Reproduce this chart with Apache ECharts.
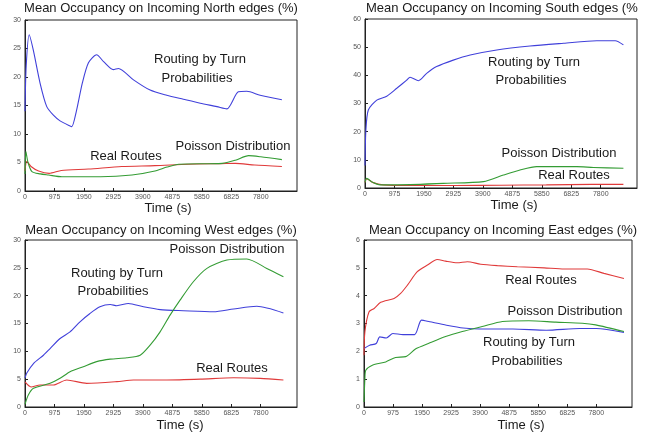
<!DOCTYPE html>
<html>
<head>
<meta charset="utf-8">
<script src="https://cdn.jsdelivr.net/npm/echarts@6/dist/echarts.min.js"></script>
<style>
html, body { margin: 0; padding: 0; background: #fff; }
#chart { width: 649px; height: 436px; }
</style>
</head>
<body>
<div id="chart"></div>
<script>
// Tick positions on the time axis (seconds)
const timeTicks = [0, 975, 1950, 2925, 3900, 4875, 5850, 6825, 7800];

// Incoming North edges: [time (s), occupancy (%)]
const northTurn = [[0,14],[40,22],[140,27.4],[275,24.7],[500,18.9],[720,14.8],[940,13.3],[1160,12.3],[1490,11.4],[1550,11.3],[1700,14],[1900,19],[2100,22.5],[2370,23.9],[2600,22.7],[2920,21.3],[3090,21.5],[3590,19.5],[4140,17.7],[4690,16.8],[5240,16.1],[5800,15.4],[6350,14.8],[6680,14.4],[7060,17.4],[7340,17.5],[7780,16.8],[8500,16.0]];
const northReal = [[0,3.5],[60,5.2],[200,4.3],[450,3.5],[800,3.1],[1200,3.6],[2100,3.85],[3200,4.3],[4300,4.45],[5400,4.7],[6500,4.8],[6960,4.85],[7600,4.55],[8500,4.3]];
const northPoisson = [[0,3.0],[30,6.9],[100,5.0],[230,3.4],[500,3.0],[780,2.8],[1220,2.5],[2500,2.5],[3540,2.8],[4300,3.5],[4700,4.2],[5090,4.7],[6520,4.85],[6960,5.4],[7400,6.2],[7800,6.0],[8500,5.5]];

// Incoming South edges
const southTurn = [[0,8],[30,20.6],[110,27.7],[390,31.2],[720,32.6],[1050,35.4],[1380,38.3],[1490,39.3],[1770,38.1],[2040,40.7],[2370,43.1],[2920,45.4],[3480,47.2],[4360,49],[5460,50.4],[6570,51.4],[7670,52.3],[8280,52.3],[8550,50.8]];
const southPoisson = [[0,2],[55,3.4],[250,2],[500,1.1],[1500,1.2],[2590,1.65],[3920,2.25],[4580,4.6],[5130,6.4],[5680,7.6],[7010,7.6],[7560,7.3],[8550,7.0]];
const southReal = [[0,2.0],[60,3.3],[250,2.0],[600,1.1],[1500,0.9],[3000,0.9],[4500,1.0],[6000,1.1],[7500,1.3],[8550,1.3]];

// Incoming West edges
const westTurn = [[0,5.2],[60,6.1],[280,7.8],[610,9.3],[830,10.5],[1160,12.3],[1490,13.5],[1820,15.3],[2150,16.8],[2480,18.0],[2820,18.4],[3040,18.2],[3420,18.6],[3920,18.0],[4470,17.5],[5240,17.3],[6240,17.1],[6900,17.6],[7670,18.1],[8550,16.9]];
const westPoisson = [[0,0.5],[110,2.15],[280,3.35],[830,4.25],[1160,5.15],[1490,6.35],[1930,7.25],[2370,8.15],[2820,8.6],[3370,8.85],[3810,9.3],[4140,11.1],[4470,13.5],[4800,16.5],[5130,19.2],[5570,22.5],[6020,24.9],[6680,26.4],[7340,26.6],[8000,24.9],[8550,23.4]];
const westReal = [[0,4.5],[200,3.6],[500,3.95],[940,3.95],[1380,4.85],[2040,4.25],[3040,4.55],[3590,4.85],[4690,4.85],[5800,5.0],[6900,5.25],[7780,5.15],[8550,4.85]];

// Incoming East edges
const eastReal = [[0,1.86],[30,2.7],[170,3.42],[340,3.54],[560,3.76],[1010,3.9],[1230,4.08],[1460,4.38],[1790,4.86],[2130,5.1],[2460,5.3],[2740,5.24],[3130,5.18],[3470,5.22],[3920,5.13],[4480,5.08],[5150,5.04],[6050,5.0],[6720,4.96],[7500,4.96],[8060,4.8],[8730,4.62]];
const eastTurn = [[0,2.1],[190,2.22],[410,2.28],[530,2.52],[750,2.48],[970,2.64],[1310,2.6],[1700,2.6],[1930,3.12],[2210,3.06],[2770,2.94],[3330,2.84],[3890,2.8],[5000,2.8],[6120,2.76],[7240,2.82],[7800,2.82],[8730,2.68]];
const eastPoisson = [[0,0.18],[30,1.02],[60,1.32],[280,1.5],[730,1.62],[1060,1.78],[1400,1.81],[1740,2.09],[2180,2.29],[2740,2.53],[3300,2.71],[3970,2.89],[4650,3.07],[5540,3.1],[6440,3.05],[7330,3.01],[7780,2.95],[8730,2.71]];

// Panel text
const panelTitles = [
  'Mean Occupancy on Incoming North edges (%)',
  'Mean Occupancy on Incoming South edges (%',
  'Mean Occupancy on Incoming West edges (%)',
  'Mean Occupancy on Incoming East edges (%)'
];
const xName = 'Time (s)';
const turnLines = ['Routing by Turn', 'Probabilities'];
const poissonName = 'Poisson Distribution';
const realName = 'Real Routes';

// y ranges per panel: [max, interval]
const yRanges = [[30, 5], [60, 10], [30, 5], [6, 1]];

const BLUE = '#4040da', GREEN = '#349c34', RED = '#e03a3a';
const FONT = '"Liberation Sans", Arial, Helvetica, sans-serif';

const grids = [
  { left: 25, top: 20, width: 272, height: 171 },
  { left: 365, top: 19, width: 272, height: 169 },
  { left: 25, top: 240, width: 272, height: 167 },
  { left: 364, top: 240, width: 268, height: 167 }
].map(g => Object.assign({ show: true, borderColor: '#222', borderWidth: 1, backgroundColor: 'transparent' }, g));

const xAxes = grids.map((g, i) => ({
  gridIndex: i, type: 'value', min: 0, max: 9000,
  axisLine: { lineStyle: { color: '#222', width: 1 } },
  axisTick: { inside: true, length: 3, customValues: timeTicks, lineStyle: { color: '#222' } },
  axisLabel: {
    customValues: timeTicks, fontSize: 7, color: '#555', margin: 3, fontFamily: FONT,
    formatter: v => String(v)
  },
  splitLine: { show: false }
}));

const yAxes = grids.map((g, i) => ({
  gridIndex: i, type: 'value', min: 0, max: yRanges[i][0], interval: yRanges[i][1],
  axisLine: { show: true, lineStyle: { color: '#222', width: 1 } },
  axisTick: { show: true, inside: true, length: 3, lineStyle: { color: '#222' } },
  axisLabel: { fontSize: 7, color: '#555', margin: 4, fontFamily: FONT },
  splitLine: { show: false }
}));

function line(data, idx, color) {
  return {
    type: 'line', data: data, xAxisIndex: idx, yAxisIndex: idx,
    showSymbol: false, smooth: 0.25, animation: false,
    lineStyle: { color: color, width: 1.1 }
  };
}

const series = [
  line(northTurn, 0, BLUE), line(northReal, 0, RED), line(northPoisson, 0, GREEN),
  line(southTurn, 1, BLUE), line(southReal, 1, RED), line(southPoisson, 1, GREEN),
  line(westTurn, 2, BLUE), line(westReal, 2, RED), line(westPoisson, 2, GREEN),
  line(eastTurn, 3, BLUE), line(eastReal, 3, RED), line(eastPoisson, 3, GREEN)
];

function txt(text, x, y, align) {
  return {
    type: 'text', x: x, y: y, silent: true,
    style: { text: text, font: '13px ' + FONT, fill: '#1a1a1a', align: align || 'center', verticalAlign: 'middle' }
  };
}

const graphic = [
  // titles
  txt(panelTitles[0], 161, 8), txt(panelTitles[1], 366, 8, 'left'),
  txt(panelTitles[2], 161, 230), txt(panelTitles[3], 503, 230),
  // axis names
  txt(xName, 168, 208), txt(xName, 514, 205), txt(xName, 180, 425), txt(xName, 521, 425),
  // North annotations
  txt(turnLines[0], 200, 59), txt(turnLines[1], 197, 78),
  txt(poissonName, 233, 146), txt(realName, 126, 156),
  // South annotations
  txt(turnLines[0], 534, 62), txt(turnLines[1], 531, 80),
  txt(poissonName, 559, 153), txt(realName, 574, 175),
  // West annotations
  txt(poissonName, 227, 249), txt(turnLines[0], 117, 273), txt(turnLines[1], 113, 291),
  txt(realName, 232, 368),
  // East annotations
  txt(realName, 541, 280), txt(poissonName, 565, 311),
  txt(turnLines[0], 529, 342), txt(turnLines[1], 527, 361)
];

const chart = echarts.init(document.getElementById('chart'), null, { renderer: 'canvas' });
chart.setOption({
  animation: false,
  backgroundColor: '#fff',
  grid: grids,
  xAxis: xAxes,
  yAxis: yAxes,
  series: series,
  graphic: graphic
});
</script>
</body>
</html>
